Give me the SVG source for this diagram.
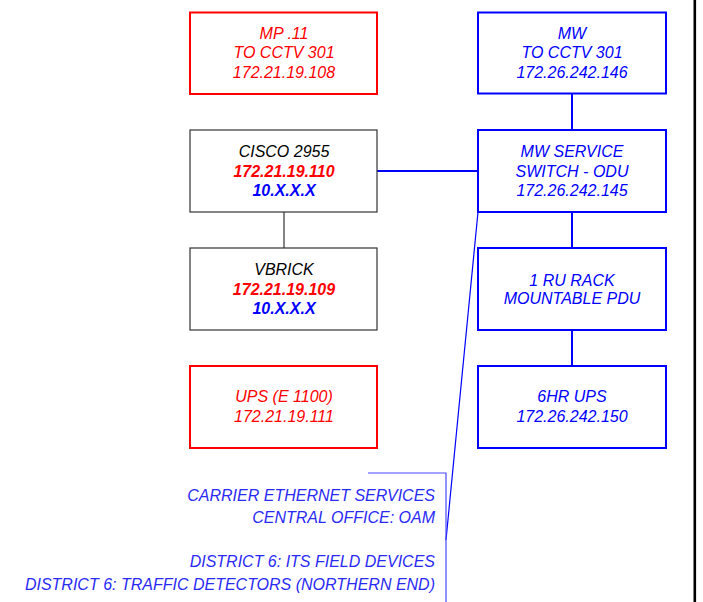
<svg xmlns="http://www.w3.org/2000/svg" width="703" height="602" viewBox="0 0 703 602">
<style>
text{font-family:"Liberation Sans",Arial,sans-serif;font-size:16px;font-style:italic;text-anchor:middle}
.red{fill:#ff0000}.blue{fill:#0000ff}.blk{fill:#000}
.b{font-weight:bold}
.rb{fill:#fff;stroke:#ff0000;stroke-width:2}
.bb{fill:#fff;stroke:#0000ff;stroke-width:2}
.kb{fill:#fff;stroke:#333;stroke-width:1.2}
.lt{fill:#2a2af5;text-anchor:end}
</style>
<rect width="703" height="602" fill="#fff"/>
<line x1="694.8" y1="0" x2="694.8" y2="602" stroke="#000" stroke-width="2.6"/>
<g id="connectors" fill="none">
<line x1="377" y1="171" x2="478" y2="171" stroke="#0000ff" stroke-width="2"/>
<line x1="572" y1="93" x2="572" y2="130" stroke="#0000ff" stroke-width="2"/>
<line x1="572" y1="212" x2="572" y2="248" stroke="#0000ff" stroke-width="2"/>
<line x1="572" y1="330" x2="572" y2="366" stroke="#0000ff" stroke-width="2"/>
<line x1="284" y1="212" x2="284" y2="248" stroke="#333" stroke-width="1.2"/>
<line x1="478" y1="212" x2="446" y2="540" stroke="#0000ff" stroke-width="1.2"/>
<polyline points="368,473 446,473 446,602" stroke="#4848ff" stroke-width="1.2"/>
</g>
<g id="mp11">
<rect class="rb" x="190" y="12.5" width="187" height="81.5"/>
<text class="red" x="284" y="38.5">MP .11</text>
<text class="red" x="284" y="58">TO CCTV 301</text>
<text class="red" x="284" y="77.5">172.21.19.108</text>
</g>
<g id="mw">
<rect class="bb" x="478" y="12.5" width="188" height="81"/>
<text class="blue" x="572" y="38.5">MW</text>
<text class="blue" x="572" y="58">TO CCTV 301</text>
<text class="blue" x="572" y="77.5">172.26.242.146</text>
</g>
<g id="cisco">
<rect class="kb" x="190" y="130" width="187" height="82"/>
<text class="blk" x="284" y="157">CISCO 2955</text>
<text class="red b" x="284" y="176.5">172.21.19.110</text>
<text class="blue b" x="284" y="196">10.X.X.X</text>
</g>
<g id="mwswitch">
<rect class="bb" x="478" y="130" width="188" height="82"/>
<text class="blue" x="572" y="157">MW SERVICE</text>
<text class="blue" x="572" y="176.5">SWITCH - ODU</text>
<text class="blue" x="572" y="196">172.26.242.145</text>
</g>
<g id="vbrick">
<rect class="kb" x="190" y="248" width="187" height="82"/>
<text class="blk" x="284" y="275">VBRICK</text>
<text class="red b" x="284" y="294.5">172.21.19.109</text>
<text class="blue b" x="284" y="314">10.X.X.X</text>
</g>
<g id="pdu">
<rect class="bb" x="478" y="248" width="188" height="82"/>
<text class="blue" x="572" y="285.5">1 RU RACK</text>
<text class="blue" x="572" y="304">MOUNTABLE PDU</text>
</g>
<g id="ups">
<rect class="rb" x="190" y="366" width="187" height="82"/>
<text class="red" x="284" y="402">UPS (E 1100)</text>
<text class="red" x="284" y="422">172.21.19.111</text>
</g>
<g id="ups6hr">
<rect class="bb" x="478" y="366" width="188" height="82"/>
<text class="blue" x="572" y="402">6HR UPS</text>
<text class="blue" x="572" y="422">172.26.242.150</text>
</g>
<g id="labels">
<text class="lt" x="435" y="500.5">CARRIER ETHERNET SERVICES</text>
<text class="lt" x="435" y="523">CENTRAL OFFICE: OAM</text>
<text class="lt" x="435" y="567">DISTRICT 6: ITS FIELD DEVICES</text>
<text class="lt" x="435" y="589.5">DISTRICT 6: TRAFFIC DETECTORS (NORTHERN END)</text>
</g>
</svg>
